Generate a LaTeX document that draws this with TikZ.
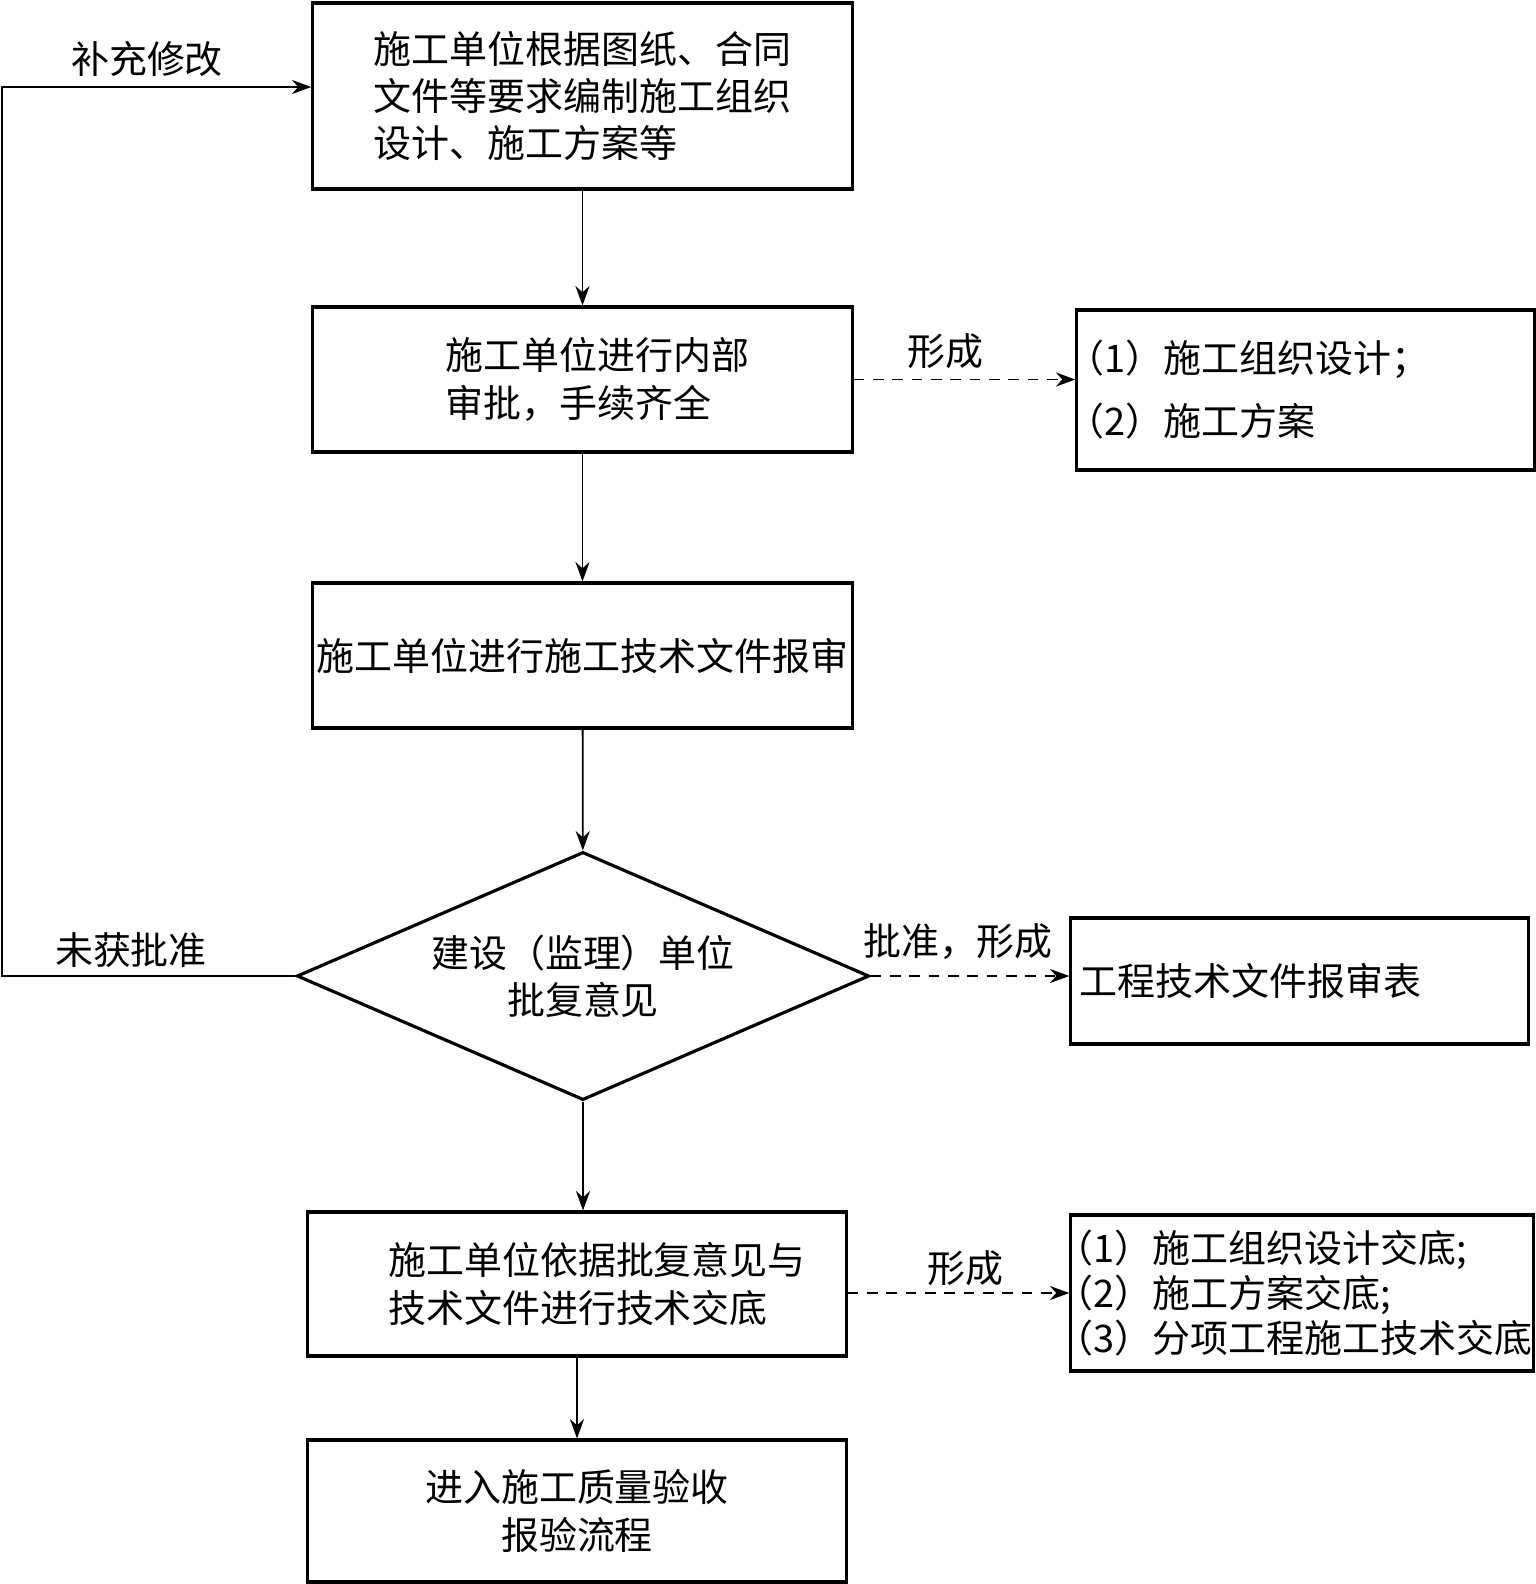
\documentclass[tikz,border=0pt]{standalone}
\usepackage{fontspec}
\setmainfont{Noto Sans CJK SC}
\usetikzlibrary{shapes.geometric,arrows.meta}
\begin{document}
\begin{tikzpicture}[x=0.01cm,y=-0.01cm,
			every node/.style={font=\fontsize{10.8}{13.5}\selectfont},
			box/.style={draw, line width=0.9pt, minimum width=5.39cm, minimum height=1.45cm, align=left},
			result/.style={draw, line width=0.9pt, minimum width=4.57cm, inner sep=0.09cm, text width=4.39cm, align=left},
			decision/.style={draw, diamond, aspect=2.3, line width=0.9pt, minimum width=5.72cm, minimum height=2.48cm, inner sep=0pt, align=center},
			flow/.style={-{Stealth[length=5.5pt,width=4pt]}, line width=0.5pt},
			form/.style={flow, dash pattern=on 3pt off 2.5pt}]
			\useasboundingbox (0,0) rectangle (1536,1584);

			\node[box, minimum height=1.86cm] (plan) at (582.5,96) {施工单位根据图纸、合同\\文件等要求编制施工组织\\设计、施工方案等};
			\node[box] (inner) at (582.5,379.5) {\hspace*{0.3cm}施工单位进行内部\\\hspace*{0.3cm}审批，手续齐全};
			\node[result, minimum height=1.6cm, font=\fontsize{10.8}{17.9}\selectfont] (docs) at (1305.5,390) {\hspace*{-0.5em}（1）施工组织设计；\\\hspace*{-0.5em}（2）施工方案};
			\node[box, inner xsep=1pt] (submit) at (582.5,655.5) {施工单位进行施工技术文件报审};
			\node[decision] (reply) at (583,976) {建设（监理）单位\\批复意见};
			\node[result, minimum height=1.26cm] (sheet) at (1299.5,981) {工程技术文件报审表};
			\node[box, minimum width=5.38cm, minimum height=1.44cm] (brief) at (577,1284) {\hspace*{0.4cm}施工单位依据批复意见与\\\hspace*{0.4cm}技术文件进行技术交底};
			\node[result, minimum width=4.62cm, minimum height=1.56cm, inner sep=0.04cm, text width=4.54cm,
				font=\fontsize{10.8}{12.8}\selectfont] (briefs) at (1302,1293) {\hspace*{-0.5em}（1）施工组织设计交底;\\\hspace*{-0.5em}（2）施工方案交底;\\\hspace*{-0.5em}（3）分项工程施工技术交底};
			\node[box, minimum width=5.38cm, minimum height=1.42cm, align=center] (accept) at (577,1511) {进入施工质量验收\\报验流程};

			% labels
			\node (redo) at (147,59) {补充修改};
			\node (reject) at (131,950) {未获批准};
			\node (make1) at (945,351) {形成};
			\node (make2) at (958,942) {批准，形成};
			\node (make3) at (965,1268) {形成};

			\draw[flow] (plan) -- (inner);
			\draw[flow] (inner) -- (submit);
			\draw[flow] (submit) -- (reply);
			\draw[flow] (reply.south) -- (reply.south |- brief.north);
			\draw[flow] (brief) -- (accept);
			\coordinate (back) at (2,87);
			\draw[flow] (reply.west) -| (back) -- (back -| plan.west);
			\draw[form] (inner.east) -- (inner.east -| docs.west);
			\draw[form] (reply.east) -- (reply.east -| sheet.west);
			\draw[form] (briefs.west -| brief.east) -- (briefs.west);
\end{tikzpicture}
\end{document}
